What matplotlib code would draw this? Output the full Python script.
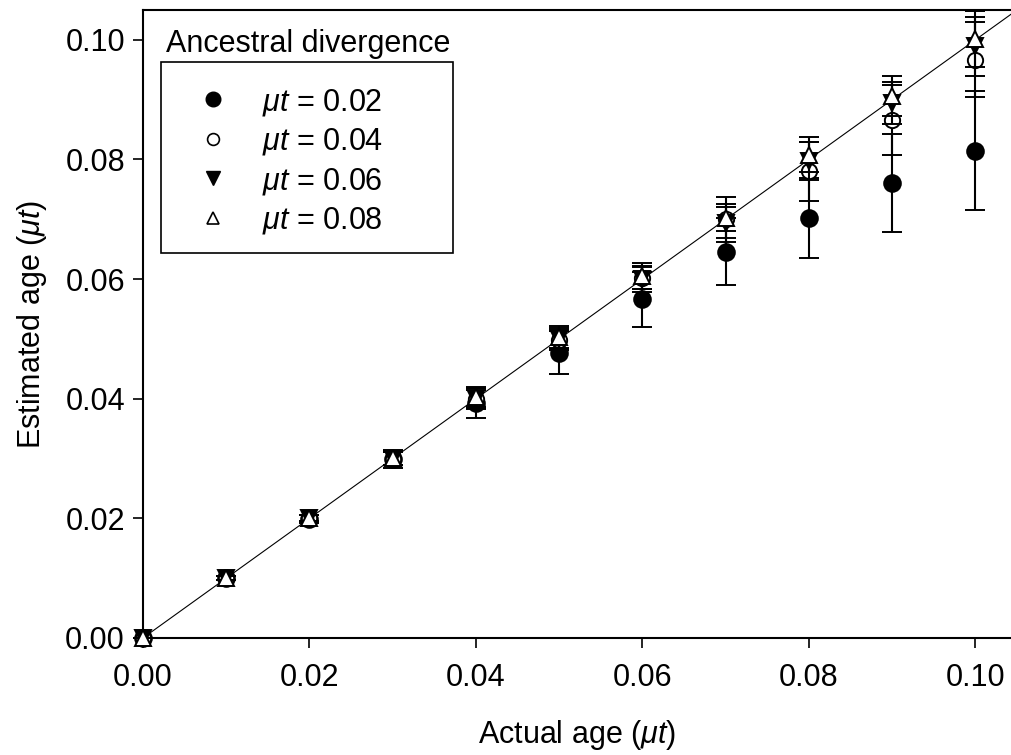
import numpy as np
import matplotlib
matplotlib.use('Agg')
import matplotlib.pyplot as plt
from matplotlib.lines import Line2D
from matplotlib.patches import Rectangle

plt.rcParams['font.family'] = ['Liberation Sans', 'DejaVu Sans']
plt.rcParams['mathtext.fontset'] = 'custom'
plt.rcParams['mathtext.rm'] = 'Liberation Sans'
plt.rcParams['mathtext.it'] = 'Liberation Sans:italic'
plt.rcParams['font.size'] = 22

# actual age (mu*t) and estimated age for each ancestral divergence
actual = [0.00, 0.01, 0.02, 0.03, 0.04, 0.05, 0.06, 0.07, 0.08, 0.09, 0.10]

est_02 = [0.0, 0.0100, 0.0199, 0.0299, 0.0393, 0.0477, 0.0566, 0.0646, 0.0702, 0.0760, 0.0815]
sd_02 = [0.0, 0.0003, 0.0006, 0.0015, 0.0025, 0.0036, 0.0046, 0.0056, 0.0067, 0.0082, 0.0099]

est_04 = [0.0, 0.0100, 0.0200, 0.0300, 0.0399, 0.0499, 0.0602, 0.0700, 0.0780, 0.0866, 0.0967]
sd_04 = [0.0, 0.0003, 0.0005, 0.0011, 0.0015, 0.0016, 0.0018, 0.0020, 0.0050, 0.0059, 0.0063]

est_06 = [0.0, 0.0100, 0.0200, 0.0300, 0.0400, 0.0500, 0.0600, 0.0694, 0.0797, 0.0895, 0.0989]
sd_06 = [0.0, 0.0003, 0.0005, 0.0011, 0.0018, 0.0019, 0.0022, 0.0032, 0.0032, 0.0035, 0.0050]

est_08 = [0.0, 0.0100, 0.0200, 0.0301, 0.0403, 0.0503, 0.0605, 0.0703, 0.0808, 0.0906, 0.1001]
sd_08 = [0.0, 0.0003, 0.0005, 0.0012, 0.0017, 0.0019, 0.0022, 0.0035, 0.0029, 0.0034, 0.0047]

labels = [r'$\mu t$ = 0.02', r'$\mu t$ = 0.04', r'$\mu t$ = 0.06', r'$\mu t$ = 0.08']
ticks = [0.00, 0.02, 0.04, 0.06, 0.08, 0.10]

fig = plt.figure(figsize=(10.12, 7.55), dpi=100)
ax = fig.add_axes([0.1413, 0.155, 0.8587, 0.8318])

# 1:1 reference line
ax.plot([0, 0.2], [0, 0.2], color='black', lw=0.8, zorder=1)

series = [
    (est_02, sd_02, 'o', 'black', 12),
    (est_04, sd_04, 'o', 'white', 11),
    (est_06, sd_06, 'v', 'black', 11.5),
    (est_08, sd_08, '^', 'white', 12),
]
for i, (est, sd, mk, fc, ms) in enumerate(series):
    ax.errorbar(actual, est, yerr=sd, fmt=mk, mfc=fc, mec='black', mew=1.4,
                ms=ms, ecolor='black', elinewidth=1.5, capsize=7, capthick=1.5,
                zorder=2 + i, clip_on=False)

ax.set_xlim(0, 0.1044)
ax.set_ylim(0, 0.105)
ax.set_xticks(ticks)
ax.set_yticks(ticks)
ax.xaxis.set_major_formatter(matplotlib.ticker.FormatStrFormatter('%.2f'))
ax.yaxis.set_major_formatter(matplotlib.ticker.FormatStrFormatter('%.2f'))
ax.tick_params(axis='x', direction='out', length=7, width=1.2, pad=11)
ax.tick_params(axis='y', direction='out', length=7, width=1.2, pad=6)
ax.spines['right'].set_visible(False)
for s in ['left', 'bottom', 'top']:
    ax.spines[s].set_linewidth(1.5)

ax.set_xlabel(r'Actual age ($\mu t$)', labelpad=18)
ax.set_ylabel(r'Estimated age ($\mu t$)', labelpad=12)

# legend: title sits above a separate box
handles = [
    Line2D([], [], ls='none', marker='o', mfc='black', mec='black', ms=10.5),
    Line2D([], [], ls='none', marker='o', mfc='white', mec='black', mew=1.2, ms=8.5),
    Line2D([], [], ls='none', marker='v', mfc='black', mec='black', ms=9.5),
    Line2D([], [], ls='none', marker='^', mfc='white', mec='black', mew=1.2, ms=8.5),
]
ax.legend(handles, labels, loc='upper left', bbox_to_anchor=(0.063, 0.878),
          frameon=False, handlelength=1.0, handletextpad=1.1, labelspacing=0.28,
          borderaxespad=0, borderpad=0, fontsize=22)
ax.add_patch(Rectangle((0.0207, 0.613), 0.336, 0.304, transform=ax.transAxes,
                       fill=False, ec='black', lw=1.2, zorder=10))
ax.text(0.0265, 0.946, 'Ancestral divergence', transform=ax.transAxes,
        ha='left', va='center', fontsize=22)

fig.savefig('out.png', dpi=100)
